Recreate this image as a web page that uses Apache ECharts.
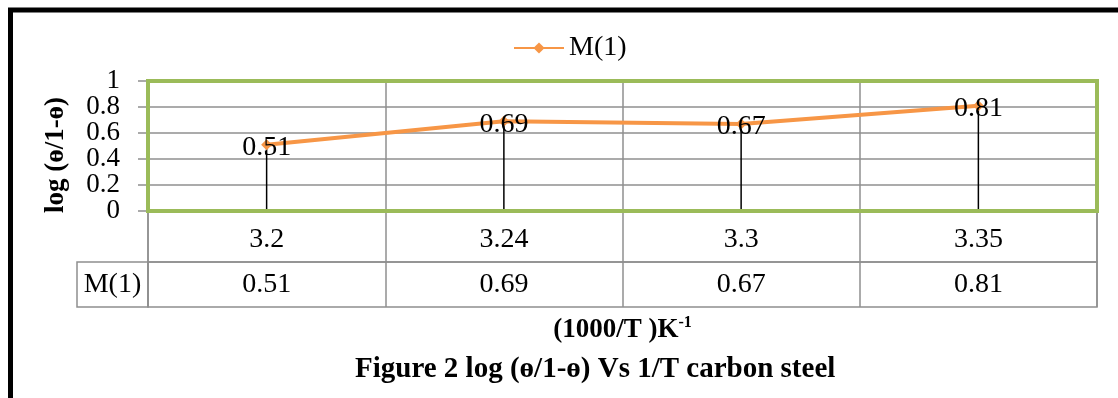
<!DOCTYPE html>
<html><head><meta charset="utf-8">
<script src="https://cdn.jsdelivr.net/npm/echarts@6/dist/echarts.min.js"></script>
<style>html,body{margin:0;padding:0;background:#fff;}#c{width:1118px;height:398px;}</style>
</head><body><div id="c"></div>
<script>
const categories = ['3.2', '3.24', '3.3', '3.35'];
const seriesName = 'M(1)';
const values = [0.51, 0.69, 0.67, 0.81];
const yTicks = [0, 0.2, 0.4, 0.6, 0.8, 1];
const yTitle = 'log (ɵ/1-ɵ)';
const xTitle = '(1000/T )K';
const xTitleSup = '-1';
const caption = 'Figure 2 log (ɵ/1-ɵ) Vs 1/T carbon steel';

const SERIF = "'Liberation Serif','Times New Roman',serif";
const GRAY = '#8f8f8f';
const chart = echarts.init(document.getElementById('c'), null, {renderer: 'canvas'});

const tableAxis = (gi, data, margin, split) => ({
  type: 'category', gridIndex: gi, data: data, boundaryGap: true, position: 'bottom',
  axisLine: {show: false}, axisTick: {show: false},
  splitLine: {show: split, interval: 0, lineStyle: {color: GRAY, width: 1.5}},
  axisLabel: {inside: true, interval: 0, margin: margin, verticalAlign: 'middle',
    color: '#000', fontFamily: SERIF, fontSize: 28}
});
const hiddenY = gi => ({type: 'value', gridIndex: gi, show: false});

const xAxisData = tableAxis(2, values.map(v => v.toFixed(2)), 22, true);
xAxisData.name = '{b|' + xTitle + '}{s|' + xTitleSup + '}';
xAxisData.nameLocation = 'middle';
xAxisData.nameGap = 8;
xAxisData.nameTextStyle = {
  rich: {
    b: {fontFamily: SERIF, fontWeight: 'bold', fontSize: 27, color: '#000', lineHeight: 30},
    s: {fontFamily: SERIF, fontWeight: 'bold', fontSize: 16, color: '#000', lineHeight: 18, verticalAlign: 'top'}
  }
};

const yMin = yTicks[0], yMax = yTicks[yTicks.length - 1], yStep = yTicks[1] - yTicks[0];
const yLabelStyle = vals => ({
  margin: 28, color: '#000', fontFamily: SERIF, fontSize: 27, lineHeight: 20,
  customValues: vals, showMinLabel: true, showMaxLabel: true, hideOverlap: false
});

const option = {
  animation: false,
  backgroundColor: '#fff',
  graphic: [{type: 'rect', silent: true, z: 10,
    shape: {x: 10.5, y: 10, width: 1400, height: 700},
    style: {fill: 'none', stroke: '#000', lineWidth: 5}}],
  title: [{text: caption, left: 355, top: 355, padding: 0,
    textStyle: {fontFamily: SERIF, fontWeight: 'bold', fontSize: 29, color: '#000'}}],
  legend: {data: [seriesName], left: 513, top: 34, padding: 0, itemWidth: 50, itemHeight: 14, itemGap: 10,
    textStyle: {fontFamily: SERIF, fontSize: 28, color: '#000'}},
  grid: [
    {left: 148, top: 81, width: 949, height: 130, show: true, borderColor: '#9BBB59', borderWidth: 4, z: 5, backgroundColor: 'transparent'},
    {left: 148, top: 211, width: 949, height: 51, show: true, borderColor: GRAY, borderWidth: 1.5},
    {left: 148, top: 262, width: 949, height: 45, show: true, borderColor: GRAY, borderWidth: 1.5},
    {left: 77, top: 262, width: 71, height: 45, show: true, borderColor: GRAY, borderWidth: 1.5}
  ],
  xAxis: [
    {type: 'category', gridIndex: 0, data: categories, boundaryGap: true,
      axisLine: {show: false}, axisTick: {show: false}, axisLabel: {show: false},
      splitLine: {show: true, interval: 0, lineStyle: {color: GRAY, width: 1.5}}},
    tableAxis(1, categories, 22, true),
    xAxisData,
    tableAxis(3, [seriesName], 22, false)
  ],
  yAxis: [
    {type: 'value', gridIndex: 0, position: 'left', offset: 0, min: yMin, max: yMax, interval: yStep,
      axisLine: {show: false},
      axisTick: {show: true, length: 10, lineStyle: {color: GRAY, width: 1.5}},
      splitLine: {show: true, lineStyle: {color: GRAY, width: 1.5}},
      axisLabel: yLabelStyle(yTicks.filter((v, i) => i % 2 === 0)),
      name: yTitle, nameLocation: 'middle', nameGap: 78,
      nameTextStyle: {fontFamily: SERIF, fontWeight: 'bold', fontSize: 27, color: '#000', padding: [0, 18, 0, 0]}},
    hiddenY(1), hiddenY(2), hiddenY(3),
    {type: 'value', gridIndex: 0, position: 'left', offset: 0, min: yMin, max: yMax, interval: yStep,
      axisLine: {show: false}, axisTick: {show: false}, splitLine: {show: false},
      axisLabel: yLabelStyle(yTicks.filter((v, i) => i % 2 === 1))}
  ],
  series: [
    {name: 'drop', type: 'bar', xAxisIndex: 0, yAxisIndex: 0, data: values, barWidth: 1.5,
      itemStyle: {color: '#000'}, silent: true, z: 1},
    {name: seriesName, type: 'line', xAxisIndex: 0, yAxisIndex: 0, data: values,
      symbol: 'diamond', symbolSize: 11,
      lineStyle: {color: '#F79646', width: 4}, itemStyle: {color: '#F79646'},
      label: {show: true, position: 'inside', offset: [0, 3], color: '#000', fontFamily: SERIF, fontSize: 28},
      z: 3}
  ]
};
chart.setOption(option);
</script></body></html>
